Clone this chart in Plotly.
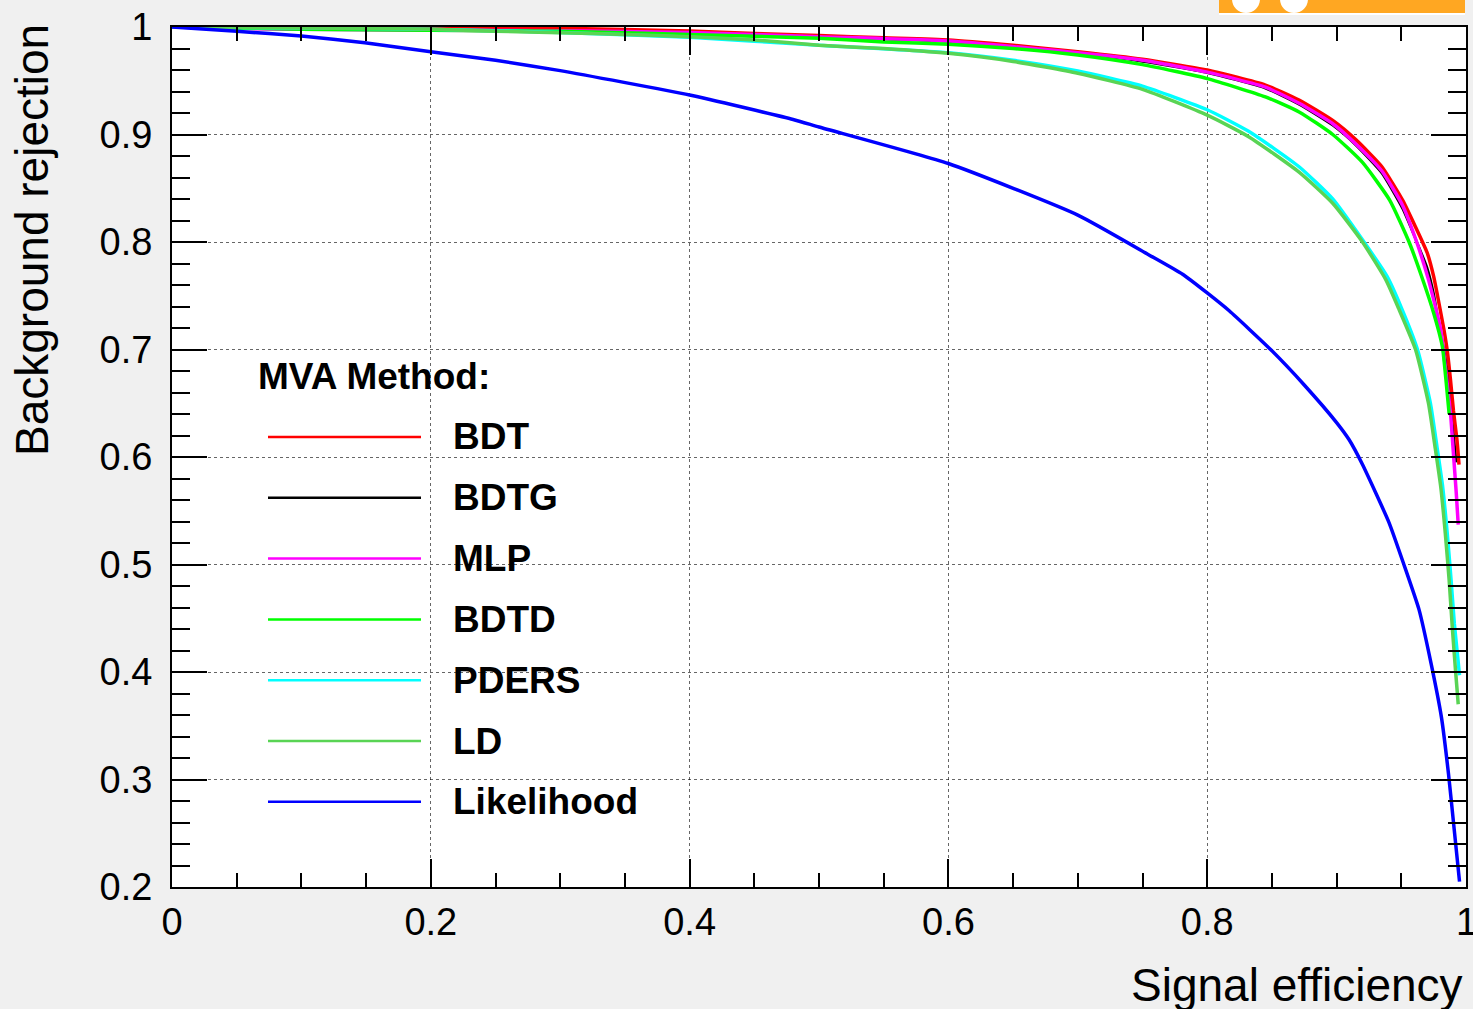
import plotly.graph_objects as go

# ---------------- data ----------------
methods = ["BDT", "BDTG", "MLP", "BDTD", "PDERS", "LD", "Likelihood"]
colors = ["#ff0000", "#000000", "#ff00ff", "#00ff00", "#00ffff", "#59d454", "#0000ff"]

bdt_x = [0, 0.1, 0.2, 0.3, 0.4, 0.45, 0.5, 0.55, 0.6, 0.65, 0.7, 0.75, 0.8, 0.845, 0.871,
         0.897, 0.915, 0.935, 0.951, 0.961, 0.970, 0.975, 0.978, 0.983, 0.9856, 0.988,
         0.9903, 0.993, 0.9946]
bdt_y = [1.0, 0.9995, 0.9993, 0.9988, 0.9963, 0.994, 0.992, 0.990, 0.988, 0.983, 0.977,
         0.970, 0.960, 0.946, 0.932, 0.913, 0.895, 0.870, 0.839, 0.814, 0.790, 0.768,
         0.750, 0.718, 0.698, 0.672, 0.643, 0.616, 0.593]

bdtg_x = [0, 0.1, 0.2, 0.3, 0.4, 0.5, 0.6, 0.7, 0.75, 0.8, 0.845, 0.871, 0.897, 0.915,
          0.935, 0.951, 0.961, 0.970, 0.975, 0.978, 0.983, 0.9856, 0.988, 0.9903, 0.9925]
bdtg_y = [1.0, 0.9992, 0.9988, 0.9978, 0.9957, 0.9908, 0.9866, 0.9755, 0.9680, 0.9575, 0.9430,
          0.9280, 0.9085, 0.8900, 0.864, 0.831, 0.803, 0.776, 0.752, 0.731, 0.700, 0.680,
          0.652, 0.622, 0.595]

mlp_x = [0, 0.05, 0.1, 0.2, 0.3, 0.4, 0.5, 0.6, 0.7, 0.75, 0.8, 0.845, 0.871, 0.897,
         0.915, 0.935, 0.951, 0.961, 0.971, 0.9805, 0.984, 0.988, 0.9903, 0.9925, 0.994]
mlp_y = [1.0, 0.9985, 0.998, 0.997, 0.9965, 0.995, 0.991, 0.987, 0.976, 0.969, 0.958,
         0.944, 0.929, 0.910, 0.891, 0.866, 0.834, 0.803, 0.765, 0.718, 0.684, 0.641,
         0.603, 0.566, 0.537]

bdtd_x = [0, 0.1, 0.2, 0.3, 0.4, 0.5, 0.55, 0.6, 0.65, 0.7, 0.75, 0.8, 0.845, 0.871,
          0.897, 0.920, 0.941, 0.956, 0.966, 0.975, 0.9817, 0.9845, 0.987]
bdtd_y = [1.0, 0.998, 0.997, 0.996, 0.993, 0.9895, 0.986, 0.984, 0.980, 0.974, 0.965,
          0.952, 0.935, 0.921, 0.900, 0.874, 0.839, 0.800, 0.767, 0.734, 0.703, 0.672, 0.640]

pders_x = [0, 0.1, 0.2, 0.3, 0.4, 0.5, 0.6, 0.65, 0.7, 0.75, 0.8, 0.832, 0.871, 0.897,
           0.920, 0.939, 0.950, 0.9625, 0.9725, 0.9775, 0.982, 0.9855, 0.9885, 0.9910,
           0.9935, 0.995]
pders_y = [1.0, 0.999, 0.998, 0.995, 0.9905, 0.983, 0.976, 0.969, 0.959, 0.945, 0.923,
           0.903, 0.870, 0.840, 0.802, 0.768, 0.739, 0.700, 0.650, 0.610, 0.572, 0.529,
           0.485, 0.445, 0.415, 0.397]

ld_x = [0, 0.05, 0.1, 0.15, 0.2, 0.25, 0.3, 0.35, 0.4, 0.45, 0.5, 0.55, 0.6, 0.65, 0.7,
        0.75, 0.8, 0.832, 0.871, 0.897, 0.920, 0.938, 0.948, 0.961, 0.971, 0.976, 0.9805,
        0.984, 0.987, 0.9895, 0.992, 0.994]
ld_y = [1.0, 0.9995, 0.999, 0.9985, 0.998, 0.996, 0.9947, 0.993, 0.991, 0.988, 0.983,
        0.980, 0.9755, 0.968, 0.957, 0.942, 0.918, 0.898, 0.865, 0.836, 0.800, 0.765,
        0.738, 0.700, 0.650, 0.610, 0.572, 0.529, 0.485, 0.440, 0.400, 0.370]

lik_x = [0, 0.05, 0.1, 0.149, 0.2, 0.25, 0.3, 0.4, 0.48, 0.5, 0.6, 0.7, 0.755, 0.781,
         0.8, 0.817, 0.849, 0.875, 0.9, 0.9097, 0.920, 0.9405, 0.952, 0.9637, 0.973,
         0.981, 0.9865, 0.9905, 0.9950]
lik_y = [1.0, 0.996, 0.9916, 0.9854, 0.977, 0.969, 0.9594, 0.9367, 0.914, 0.907, 0.873,
         0.825, 0.788, 0.770, 0.7526, 0.736, 0.700, 0.667, 0.632, 0.616, 0.593, 0.539,
         0.500, 0.458, 0.408, 0.358, 0.305, 0.258, 0.205]

series_x = [bdt_x, bdtg_x, mlp_x, bdtd_x, pders_x, ld_x, lik_x]
series_y = [bdt_y, bdtg_y, mlp_y, bdtd_y, pders_y, ld_y, lik_y]

x_tick_vals = [0, 0.2, 0.4, 0.6, 0.8]
x_tick_text = ["0", "0.2", "0.4", "0.6", "0.8"]
x_last_tick = (1.0, "1")          # drawn separately so it may run off the edge
x_title = "Signal efficiency"
y_title = "Background rejection"
legend_title = "MVA Method:"

# ---------------- figure ----------------
W, H = 1473, 1009
ML, MR, MT, MB = 172, 7, 27, 122
PW, PH = W - ML - MR, H - MT - MB

def px(xpix):
    return (xpix - ML) / PW

def py(ypix):
    return (H - MB - ypix) / PH

FONT = "Liberation Sans, Arial, Helvetica, sans-serif"

fig = go.Figure()
# drawing order: BDTG underneath, then the rest in legend order
draw_order = [1, 0, 2, 3, 4, 5, 6]
for i in draw_order:
    fig.add_trace(go.Scatter(x=series_x[i], y=series_y[i], mode="lines", name=methods[i],
                             line=dict(color=colors[i], width=2.5 if i == 1 else 3.5,
                                       shape="spline", smoothing=0.5),
                             showlegend=False))

axis_common = dict(
    showline=True, linecolor="black", linewidth=2, mirror="allticks",
    ticks="inside", tickcolor="black", tickwidth=2,
    showgrid=True, gridcolor="rgba(0,0,0,0.6)", gridwidth=1, griddash="dot",
    zeroline=False, tickfont=dict(family=FONT, size=38, color="black"),
)

fig.update_xaxes(range=[0, 1], tickmode="array", tickvals=x_tick_vals, ticktext=x_tick_text,
                 ticklen=28, ticklabelstandoff=0,
                 minor=dict(tick0=0, dtick=0.05, ticklen=14, tickwidth=2, tickcolor="black",
                            ticks="inside", showgrid=False),
                 **axis_common)
fig.update_yaxes(range=[0.2, 1], tick0=0.2, dtick=0.1, ticklen=35,
                 tickformat="~g", ticklabelstandoff=10,
                 minor=dict(dtick=0.02, ticklen=18, tickwidth=2, tickcolor="black",
                            ticks="inside", showgrid=False),
                 **axis_common)

shapes = []
annotations = []

# last x tick label, partly cut by the right edge as in the reference
annotations.append(dict(text=x_last_tick[1], xref="x", yref="paper", x=x_last_tick[0],
                        y=py(922), xanchor="center", yanchor="middle", showarrow=False,
                        font=dict(family=FONT, size=38, color="black")))

# legend (drawn by hand to get ROOT-style long line samples)
leg_first_y = 437
leg_step = 60.8
for i, (name, c) in enumerate(zip(methods, colors)):
    yy = py(leg_first_y + i * leg_step)
    shapes.append(dict(type="line", xref="paper", yref="paper",
                       x0=px(268), x1=px(421), y0=yy, y1=yy,
                       line=dict(color=c, width=2.5)))
    annotations.append(dict(text="<b>%s</b>" % name, xref="paper", yref="paper",
                            x=px(451), y=yy, xanchor="left", yanchor="middle",
                            showarrow=False, font=dict(family=FONT, size=37, color="black")))
annotations.append(dict(text="<b>%s</b>" % legend_title, xref="paper", yref="paper",
                        x=px(256), y=py(377), xanchor="left", yanchor="middle",
                        showarrow=False, font=dict(family=FONT, size=37, color="black")))

# axis titles
annotations.append(dict(text=x_title, xref="paper", yref="paper",
                        x=px(1465), y=py(985), xanchor="right", yanchor="middle",
                        showarrow=False, font=dict(family=FONT, size=46, color="black")))
annotations.append(dict(text=y_title, xref="paper", yref="paper", textangle=-90,
                        x=px(32), y=py(22), xanchor="center", yanchor="top",
                        showarrow=False, font=dict(family=FONT, size=46, color="black")))

# TMVA logo fragment (top right)
shapes.append(dict(type="rect", xref="paper", yref="paper", layer="above",
                   x0=px(1219), x1=px(1465), y0=py(15), y1=py(13),
                   fillcolor="white", line=dict(width=0)))
shapes.append(dict(type="rect", xref="paper", yref="paper", layer="above",
                   x0=px(1219), x1=px(1465), y0=py(13), y1=py(-2),
                   fillcolor="#ffa722", line=dict(width=0)))
for cx in (1246, 1294):
    shapes.append(dict(type="circle", xref="paper", yref="paper", layer="above",
                       x0=px(cx - 14), x1=px(cx + 14), y0=py(13), y1=py(-15),
                       fillcolor="white", line=dict(width=0)))

fig.update_layout(
    width=W, height=H,
    margin=dict(l=ML, r=MR, t=MT, b=MB, pad=0, autoexpand=False),
    paper_bgcolor="#f0f0f0", plot_bgcolor="white",
    shapes=shapes, annotations=annotations,
    font=dict(family=FONT, color="black"),
)

fig.write_html(
    "out.html",
    config={"displayModeBar": False},
    post_script=("document.body.style.margin='0px';"
                 "document.body.style.padding='0px';"
                 "document.body.style.background='#f0f0f0';"
                 "document.documentElement.style.overflow='hidden';"),
)
